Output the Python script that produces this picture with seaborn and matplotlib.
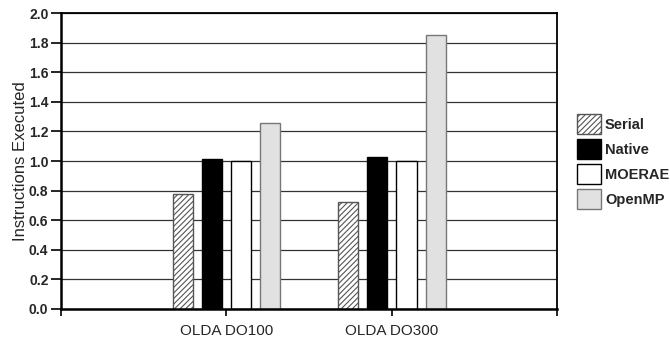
import matplotlib
matplotlib.use("Agg")
import matplotlib.pyplot as plt
import seaborn as sns
import pandas as pd
from matplotlib.patches import Patch

categories = ["OLDA DO100", "OLDA DO300"]
series = ["Serial", "Native", "MOERAE", "OpenMP"]
serial = [0.78, 0.72]
native = [1.015, 1.03]
moerae = [1.0, 1.0]
openmp = [1.26, 1.85]
yticks = [0.0, 0.2, 0.4, 0.6, 0.8, 1.0, 1.2, 1.4, 1.6, 1.8, 2.0]

rows = []
for name, vals in zip(series, [serial, native, moerae, openmp]):
    for c, v in zip(categories, vals):
        rows.append({"bench": c, "impl": name, "value": v})
df = pd.DataFrame(rows)

sns.set_theme(style="white")
plt.rcParams["font.family"] = ["Liberation Sans", "DejaVu Sans"]
plt.rcParams["hatch.linewidth"] = 0.8

fig = plt.figure(figsize=(6.7, 3.39), dpi=100)
ax = fig.add_axes([0.091, 0.0885, 0.741, 0.873])

face = {"Serial": "white", "Native": "black", "MOERAE": "white", "OpenMP": "#e1e1e1"}
edge = {"Serial": "#555555", "Native": "black", "MOERAE": "black", "OpenMP": "#777777"}
hatch = {"Serial": "//////", "Native": None, "MOERAE": None, "OpenMP": None}

sns.barplot(data=df, x="bench", y="value", hue="impl", order=categories,
            hue_order=series, palette=face, width=0.705, gap=0.31,
            edgecolor="black", linewidth=1.0, ax=ax, legend=False, errorbar=None)

for cont, name in zip(ax.containers, series):
    for b in cont:
        b.set_facecolor(face[name])
        b.set_edgecolor(edge[name])
        if hatch[name]:
            b.set_hatch(hatch[name])

ax.set_xlim(-1, 2)
ax.set_ylim(0, 2.0)
ax.set_yticks(yticks)
ax.set_yticklabels([f"{t:.1f}" for t in yticks], fontsize=10, fontweight="bold")
ax.set_xticks([0, 1])
ax.set_xticklabels(categories, fontsize=11)
ax.set_xticks([-1, 2], minor=True)
ax.tick_params(axis="y", which="both", direction="out", length=7, width=1.2,
               color="black", left=True, pad=2)
ax.tick_params(axis="x", which="both", direction="out", length=5, width=1.2,
               color="black", bottom=True, pad=6)
ax.set_xlabel("")
ax.set_ylabel("Instructions Executed", fontsize=12, labelpad=1)

ax.yaxis.grid(True, color="#333333", linewidth=0.9)
ax.xaxis.grid(False)
ax.set_axisbelow(True)
for s in ax.spines.values():
    s.set_visible(True)
    s.set_color("black")
    s.set_linewidth(1.3)
ax.spines["left"].set_linewidth(1.8)
ax.spines["bottom"].set_linewidth(1.8)

handles = [Patch(facecolor=face[n], edgecolor=edge[n], hatch=hatch[n], label=n) for n in series]
leg = ax.legend(handles=handles, loc="upper left", bbox_to_anchor=(1.0386, 0.658),
                frameon=False, fontsize=10.5, handlelength=1.65, handleheight=1.73,
                labelspacing=0.34, handletextpad=0.3, borderaxespad=0, borderpad=0)
for t in leg.get_texts():
    t.set_fontweight("bold")

fig.savefig("out.png", dpi=100)
